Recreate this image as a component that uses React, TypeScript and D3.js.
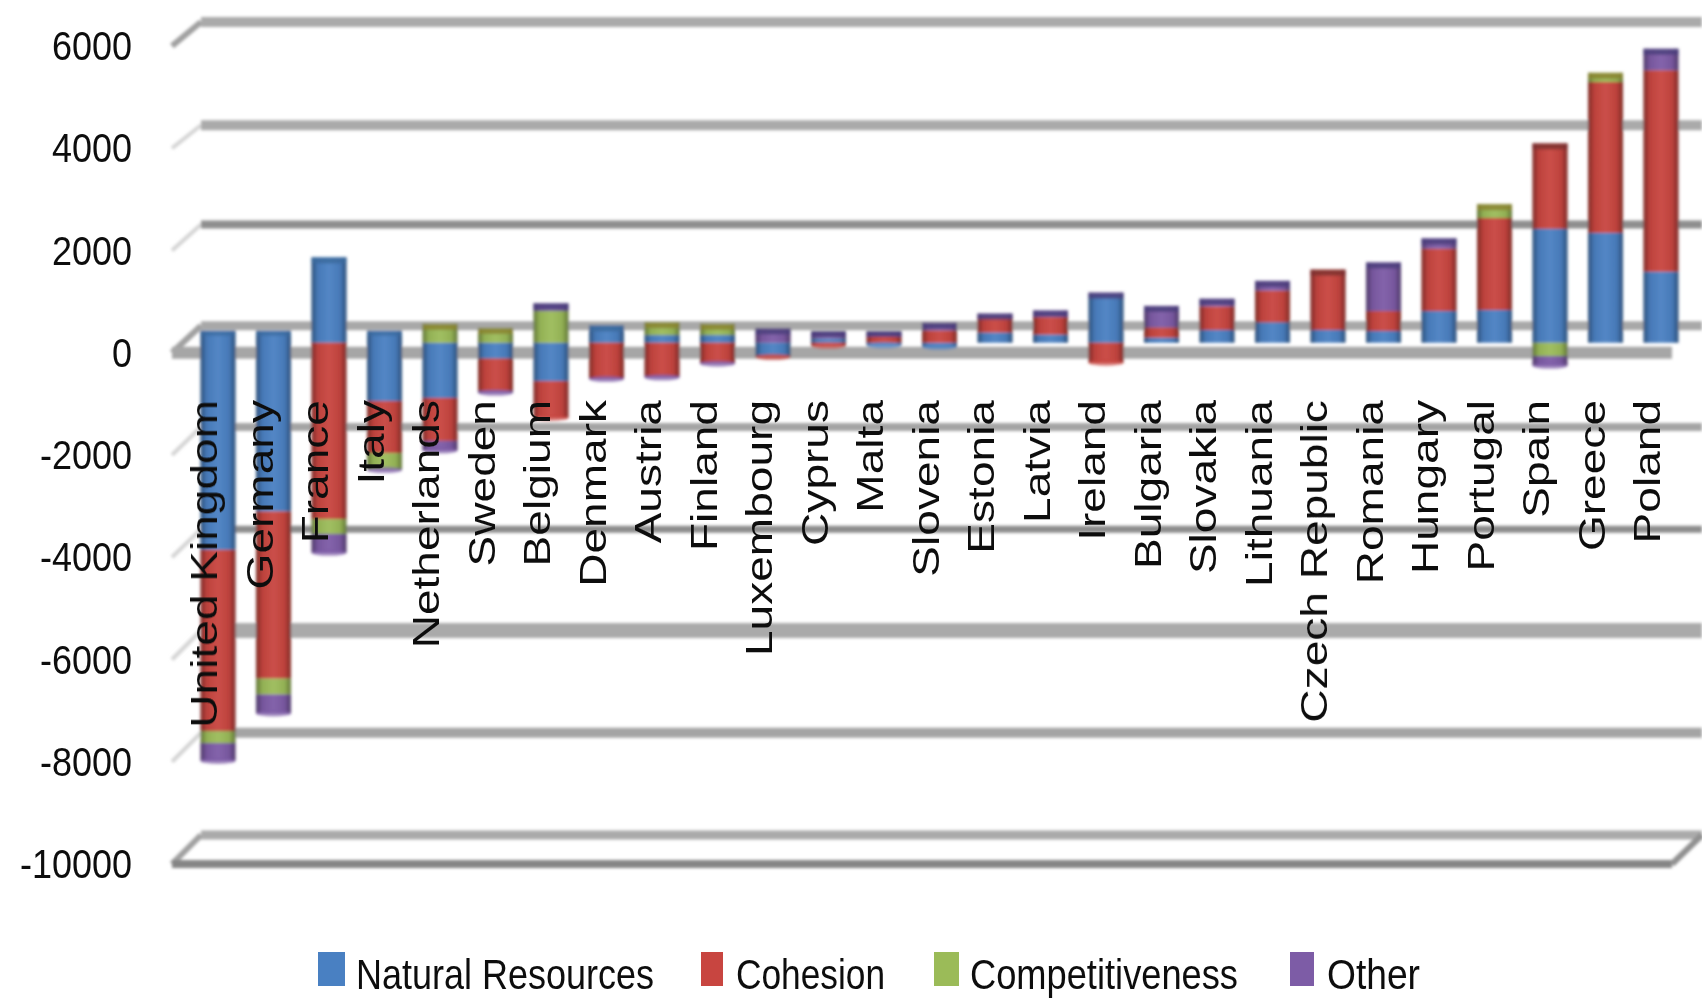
import React from "react";
import * as d3 from "d3";

const countries = ["United Kingdom","Germany","France","Italy","Netherlands","Sweden","Belgium","Denmark","Austria","Finland","Luxembourg","Cyprus","Malta","Slovenia","Estonia","Latvia","Ireland","Bulgaria","Slovakia","Lithuania","Czech Republic","Romania","Hungary","Portugal","Spain","Greece","Poland"];
const seriesNames = ["Natural Resources","Cohesion","Competitiveness","Other"];
const naturalResources = [-4050,-3300,1670,-1140,-1080,-310,-750,340,150,150,-250,80,-50,-80,200,160,950,100,250,400,250,230,620,640,2230,2150,1390];
const cohesion = [-3550,-3270,-3450,-1020,-840,-630,-720,-690,-650,-390,-30,-60,130,240,300,340,-390,200,460,620,1180,390,1220,1800,1670,2950,3940];
const competitiveness = [-230,-310,-290,-310,370,290,620,0,250,220,0,0,0,0,0,0,0,0,0,0,0,0,0,270,-260,180,0];
const other = [-350,-370,-370,-20,-190,-40,150,-20,-30,-20,280,150,100,150,70,130,30,420,150,190,0,950,200,0,-190,0,420];
const yTicks = [6000,4000,2000,0,-2000,-4000,-6000,-8000,-10000];

const colors = ["#4a80c2","#c8453f","#9bbb59","#7d5ba6"];
const capColors = ["#3b6a9c","#7c3230","#8a8430","#4b3f7c"];
const gridWidths = [10,10,8,9,8,7,15,10,9];
const gridNudge = [3,4,1,0,-1,-1,-2,-2,-2];
const gridColors = ["#aaaaaa","#aaaaaa","#8e8e8e","#a8a8a8","#a4a4a4","#8c8c8c","#aaaaaa","#a4a4a4","#aaaaaa"];
const legendLayout = [
  { sx: 318, sw: 27, tx: 356, tw: 298 },
  { sx: 701, sw: 22, tx: 736, tw: 149 },
  { sx: 934, sw: 25, tx: 970, tw: 268 },
  { sx: 1290, sw: 24, tx: 1327, tw: 93 },
];

const W = 1702, H = 999;
const frontLeft = 172, frontRight = 1672, depthX = 29, depthY = 27, barLift = 10;
const FONT = "'Liberation Sans', Arial, sans-serif";

const y = d3.scaleLinear().domain([-10000, 6000]).range([864, 46]);
const x = d3.scaleBand<string>().domain(countries).range([190.25, 190.25 + 55.5 * 27]).paddingInner(0.37).paddingOuter(0.185);

const rows = countries.map((c, i) => ({
  country: c,
  [seriesNames[0]]: naturalResources[i],
  [seriesNames[1]]: cohesion[i],
  [seriesNames[2]]: competitiveness[i],
  [seriesNames[3]]: other[i],
}));
const stacked = d3.stack<any>().keys(seriesNames).offset(d3.stackOffsetDiverging)(rows);

export default function App() {
  const yb = (v: number) => y(v) - barLift;
  const bw = x.bandwidth();
  return (
    <svg width={W} height={H} viewBox={`0 0 ${W} ${H}`} style={{ position: "absolute", left: 0, top: 0, display: "block", background: "#fff" }}>
      <defs>
        <linearGradient id="shade" x1="0" x2="1" y1="0" y2="0">
          <stop offset="0" stopColor="#000" stopOpacity="0.38" />
          <stop offset="0.18" stopColor="#000" stopOpacity="0.06" />
          <stop offset="0.5" stopColor="#fff" stopOpacity="0.05" />
          <stop offset="0.82" stopColor="#000" stopOpacity="0.06" />
          <stop offset="1" stopColor="#000" stopOpacity="0.38" />
        </linearGradient>
        <filter id="soft" x="-2%" y="-2%" width="104%" height="104%">
          <feGaussianBlur stdDeviation="1.4" />
        </filter>
        <filter id="softText" x="-5%" y="-5%" width="110%" height="110%">
          <feGaussianBlur stdDeviation="0.7" />
        </filter>
      </defs>
      <g filter="url(#soft)">
        {yTicks.map((t, i) => (
          <g key={t}>
            <line x1={frontLeft} y1={y(t)} x2={frontLeft + depthX} y2={y(t) - depthY + gridNudge[i]}
              stroke={t === 6000 || t === 0 || t === -10000 ? "#a0a0a0" : "#d4d4d4"} strokeWidth={t === 6000 || t === 0 || t === -10000 ? 6 : 4} />
            <line x1={frontLeft + depthX} x2={W} y1={y(t) - depthY + gridNudge[i]} y2={y(t) - depthY + gridNudge[i]} stroke={gridColors[i]} strokeWidth={gridWidths[i]} />
          </g>
        ))}
        <line x1={frontLeft} x2={frontRight} y1={y(0)} y2={y(0)} stroke="#a6a6a6" strokeWidth={12} />
        <line x1={frontLeft} x2={frontRight} y1={y(-10000)} y2={y(-10000)} stroke="#858585" strokeWidth={8} />
        <line x1={frontRight} y1={y(-10000)} x2={W} y2={y(-10000) - depthY - 2} stroke="#909090" strokeWidth={6} />

        {countries.map((c, i) => {
          const px = x(c)!;
          const layers = stacked.map((s) => s[i]);
          const top = d3.min(layers, (l) => (l[1] > l[0] && l[1] > 0 ? yb(l[1]) : yb(0)))!;
          const bottom = d3.max(layers, (l) => yb(Math.min(l[0], l[1])))!;
          const noPositive = d3.max(layers, (l) => Math.max(l[0], l[1]))! <= 0;
          const first = layers.findIndex((l) => l[0] !== l[1]);
          const topSeries = stacked.reduce((best, s, k) => (s[i][1] > 0 && s[i][1] > s[i][0] ? k : best), first);
          const endSeries = stacked.reduce((best, s, k) => (s[i][0] < 0 && s[i][0] < s[i][1] ? k : best), first);
          const stubTop = noPositive ? yb(0) - 12 : top;
          return (
            <g key={c}>
              {noPositive && <rect x={px} width={bw} y={stubTop} height={yb(0) - stubTop + 1} fill={colors[first]} />}
              {stacked.map((s, k) => {
                const [a, b] = s[i];
                if (a === b) return null;
                return <rect key={k} x={px} width={bw} y={yb(Math.max(a, b))} height={Math.abs(yb(a) - yb(b))} fill={colors[k]} />;
              })}
              <rect x={px} width={bw} y={stubTop} height={bottom - stubTop} fill="url(#shade)" />
              {!noPositive && <rect x={px} width={bw} y={top} height={6} fill={capColors[topSeries]} opacity={0.85} />}
              {noPositive && <rect x={px} width={bw} y={stubTop} height={5} fill={capColors[first]} opacity={0.7} />}
              {bottom > yb(0) && <ellipse cx={px + bw / 2} cy={bottom} rx={bw / 2} ry={3} fill={colors[endSeries]} opacity={0.7} />}
            </g>
          );
        })}
      </g>

      <g filter="url(#softText)" fontFamily={FONT} fill="#111">
        {yTicks.map((t) => (
          <text key={t} textAnchor="end" fontSize={36} transform={`translate(132,${y(t) + 14}) scale(1,1.12)`}>{t}</text>
        ))}
        {countries.map((c) => (
          <text key={c} textAnchor="end" fontSize={36}
            transform={`translate(${x(c)! + bw / 2 - 1},400) rotate(-90) scale(1.28,1)`}>{c}</text>
        ))}
        {seriesNames.map((n, i) => (
          <g key={n}>
            <rect x={legendLayout[i].sx} y={952} width={legendLayout[i].sw} height={34} fill={colors[i]} />
            <text x={legendLayout[i].tx} y={989} fontSize={42} textLength={legendLayout[i].tw} lengthAdjust="spacingAndGlyphs">{n}</text>
          </g>
        ))}
      </g>
    </svg>
  );
}
